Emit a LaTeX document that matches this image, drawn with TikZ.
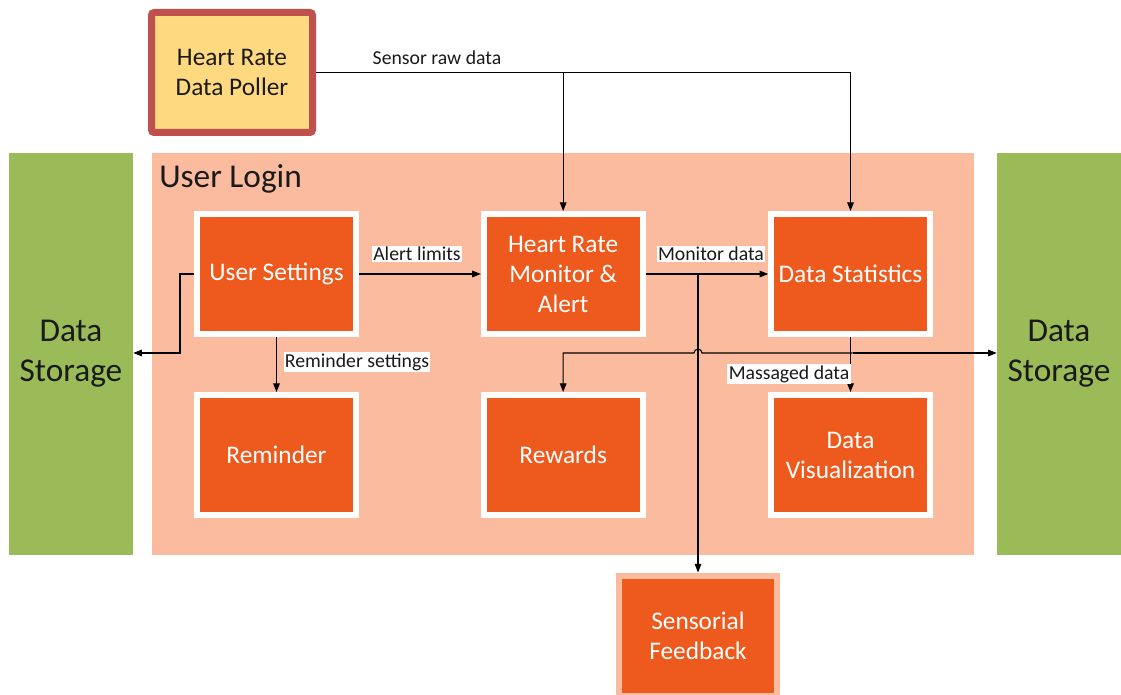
\documentclass[tikz,border=0pt]{standalone}
\usepackage{fontspec}
\setmainfont{Carlito}
\definecolor{Stcol}{HTML}{9BBB59}
\definecolor{Panelcol}{HTML}{FBBB9F}
\definecolor{Boxcol}{HTML}{EE5A1D}
\definecolor{Pollcol}{HTML}{FFD980}
\definecolor{Pollrim}{HTML}{C0504D}
\definecolor{Textcol}{HTML}{1A1A1A}
\usetikzlibrary{arrows.meta, positioning}
\tikzset{
    >={Triangle[length=6.5pt,width=5pt]},
    font=\fontsize{14.8}{17}\selectfont,
    module/.style={fill=Boxcol, draw=white, line width=4.5pt, text=white,
        minimum width=119pt, minimum height=90pt, inner sep=0pt, align=center,
        font=\fontsize{19}{22.5}\selectfont},
    store/.style={fill=Stcol, minimum width=93pt, minimum height=301.5pt,
        inner sep=0pt, align=center, text=Textcol,
        font=\fontsize{25}{30}\selectfont},
    lbl/.style={fill=white, inner sep=1pt, text=Textcol},
    link/.style={->, line width=0.8pt}
}

\begin{document}
\begin{tikzpicture}[x=0.75pt, y=-0.75pt]
    \useasboundingbox (0,0) rectangle (1121,695);

    % Storage columns
    \node[store] (storeL) at (71,354) {Data\\Storage};
    \node[store] (storeR) at (1059,354) {Data\\Storage};

    % Login panel
    \fill[Panelcol] (152,153) rectangle (974,555);
    \node[anchor=west, inner sep=0pt, text=Textcol, font=\fontsize{25}{30}\selectfont] (login) at (159,179) {User Login};

    % Poller
    \node[draw=Pollrim, fill=Pollcol, line width=5.25pt, rounded corners=2pt,
        minimum width=120.75pt, minimum height=90pt, align=center, text=Textcol,
        font=\fontsize{19}{22.5}\selectfont] (poller) at (232,72.5) {Heart Rate\\Data Poller};

    % Modules
    \node[module] (usr) at (276.5,274) {User Settings};
    \node[module, right=91.5pt of usr] (monitor) {Heart Rate\\Monitor \&\\Alert};
    \node[module, right=92pt of monitor] (stats) {Data Statistics};
    \node[module, below=41.25pt of usr] (reminder) {Reminder};
    \node[module, below=41.25pt of monitor] (rewards) {Rewards};
    \node[module, below=41.25pt of stats] (vis) {Data\\Visualization};
    \node[module, draw=Panelcol] (feedback) at (698,635.5) {Sensorial\\Feedback};

    % Junction points
    \coordinate (drop) at (180,353);
    \coordinate (tap) at (698,274);
    \coordinate (bus) at (852.5,353);

    % Raw sensor feed
    \draw[link] (poller.east) -| (stats.north);
    \draw[link] (poller.east) -| (monitor.north);
    \node[inner sep=1pt, text=Textcol] (rawlbl) at (437,57.5) {Sensor raw data};

    % Settings
    \draw[link] (usr.east) -- (monitor.west);
    \draw[link] (usr.west) -| (drop) -- (drop -| storeL.east);
    \draw[link] (usr.south) -- (reminder.north);

    % Monitor output
    \draw[link] (monitor.east) -- (stats.west);
    \draw[link] (tap) -- (tap |- feedback.north);

    % Statistics output, hopping over the feedback line
    \draw[link] (stats.south) -- (vis.north);
    \draw[link] (bus) -- (bus -| storeR.west);
    \draw[link] (bus) -- ([xshift=3pt]tap |- bus) arc[start angle=0, end angle=180, radius=3pt] -| (rewards.north);

    % Labels
    \node[lbl] (alertlbl) at (417,254) {Alert limits};
    \node[lbl] (monlbl) at (711,254) {Monitor data};
    \node[lbl] (remlbl) at (357,362) {Reminder settings};
    \node[lbl] (maslbl) at (789,374) {Massaged data};
\end{tikzpicture}
\end{document}
